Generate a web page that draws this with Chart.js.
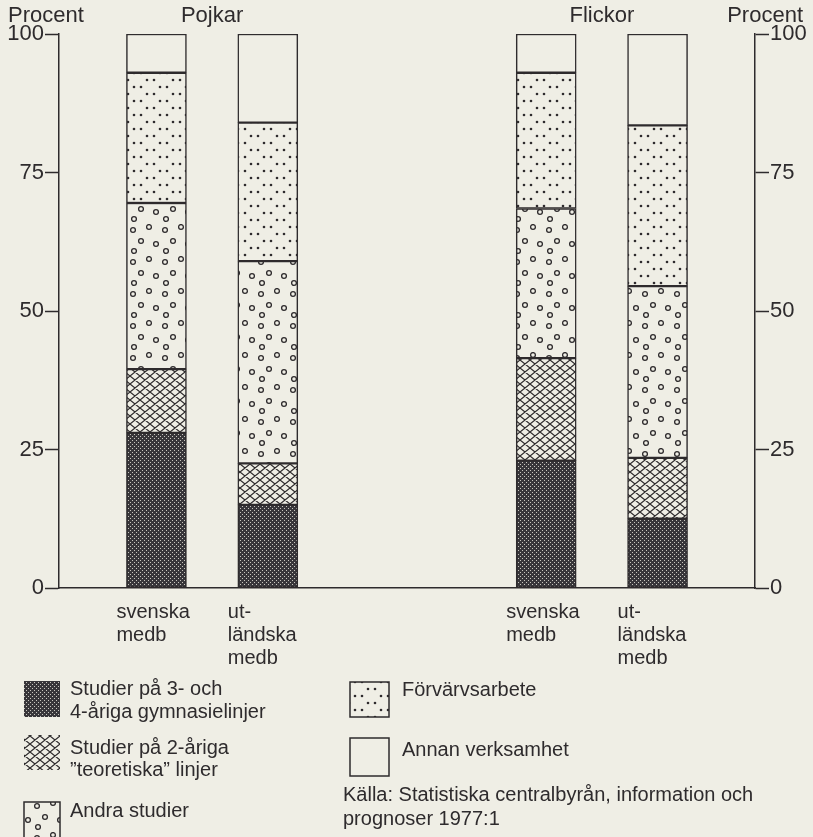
<!DOCTYPE html>
<html>
<head>
<meta charset="utf-8">
<script src="https://cdn.jsdelivr.net/npm/chart.js@4.4.1/dist/chart.umd.min.js"></script>
<style>
    html, body { margin: 0; padding: 0; background: #efeee5; }
    #wrap { width: 813px; height: 837px; }
</style>
</head>
<body>
<div id="wrap"><canvas id="chart" width="813" height="837"></canvas></div>
<script>
// Data (procent)
const groups = ['Pojkar', 'Flickor'];
const categories = [['svenska', 'medb'], ['ut-', 'ländska', 'medb'], ['svenska', 'medb'], ['ut-', 'ländska', 'medb']];
const seriesNames = [
    ['Studier på 3- och', '4-åriga gymnasielinjer'],
    ['Studier på 2-åriga', '”teoretiska” linjer'],
    ['Andra studier'],
    ['Förvärvsarbete'],
    ['Annan verksamhet']
];
const studier34 = [28, 15, 23, 12.5];
const studier2 = [11.5, 7.5, 18.5, 11];
const andraStudier = [30, 36.5, 27, 31];
const forvarv = [23.5, 25, 24.5, 29];
const annan = [7, 16, 7, 16.5];
const tickValues = [0, 25, 50, 75, 100];
const sourceLines = ['Källa: Statistiska centralbyrån, information och', 'prognoser 1977:1'];

// Layout: staplarna placeras i ett rutnät av kategorifack
const SLOTS = 25;
const barSlots = [3, 7, 17, 21];

const BG = '#efeee5';
const INK = '#2e2b2d';
const FONT = "'Liberation Sans', Arial, sans-serif";

const canvas = document.getElementById('chart');
const ctx = canvas.getContext('2d');

// Mönster
function makePattern(w, h, draw, bg) {
    const c = document.createElement('canvas');
    c.width = w; c.height = h;
    const g = c.getContext('2d');
    g.fillStyle = bg || BG;
    g.fillRect(0, 0, w, h);
    g.fillStyle = INK;
    g.strokeStyle = INK;
    draw(g, w, h);
    return ctx.createPattern(c, 'repeat');
}

const darkPattern = makePattern(4, 4, g => {
    g.fillStyle = '#c9c7bf';
    g.fillRect(0, 0, 1, 1);
    g.fillRect(2, 2, 1, 1);
}, '#38363a');

const crossPattern = makePattern(10, 8, (g, w, h) => {
    g.lineWidth = 1.2;
    g.beginPath();
    for (const dx of [-w, 0, w]) {
        g.moveTo(dx, 0); g.lineTo(dx + w, h);
        g.moveTo(dx + w, 0); g.lineTo(dx, h);
    }
    g.stroke();
});

const circlePattern = makePattern(32, 32, (g, w, h) => {
    g.lineWidth = 1.3;
    const pts = [[5, 6], [21, 3], [13, 17], [28, 20], [6, 27]];
    pts.forEach(([px, py]) => {
        for (const dx of [-w, 0, w]) for (const dy of [-h, 0, h]) {
            g.beginPath();
            g.arc(px + dx, py + dy, 2.4, 0, Math.PI * 2);
            g.stroke();
        }
    });
});

const dotPattern = makePattern(26, 14, g => {
    [[4, 3], [11, 3], [17, 10], [24, 10]].forEach(([px, py]) => {
        g.beginPath();
        g.arc(px, py, 1.3, 0, Math.PI * 2);
        g.fill();
    });
});

const fills = [darkPattern, crossPattern, circlePattern, dotPattern, BG];
const seriesValues = [studier34, studier2, andraStudier, forvarv, annan];

// Lägg värdena i rätt fack
function toSlots(values) {
    const arr = new Array(SLOTS).fill(null);
    values.forEach((v, i) => { arr[barSlots[i]] = v; });
    return arr;
}
const slotLabels = new Array(SLOTS).fill('');
barSlots.forEach((s, i) => { slotLabels[s] = categories[i].join(' '); });

const datasets = seriesValues.map((vals, i) => ({
    label: seriesNames[i].join(' '),
    data: toSlots(vals),
    backgroundColor: fills[i],
    borderColor: INK,
    borderWidth: 1.5,
    borderSkipped: false,
    barThickness: 60
}));

// Legendens och textens placering
const legendBoxes = [
    { x: 24, y: 681, w: 36, h: 36, tx: 70, ty: [689, 712], stroke: false },
    { x: 24, y: 735, w: 36, h: 35, tx: 70, ty: [748, 770], stroke: false },
    { x: 24, y: 802, w: 36, h: 40, tx: 70, ty: [811], stroke: true },
    { x: 350, y: 682, w: 39, h: 35, tx: 402, ty: [690], stroke: true },
    { x: 350, y: 738, w: 39, h: 38, tx: 402, ty: [750], stroke: true }
];
const labelLineY = [612, 635, 658];

const extraText = {
    id: 'extraText',
    afterDraw(chart) {
        const c = chart.ctx;
        const x = chart.scales.x;
        c.save();
        c.fillStyle = INK;
        c.textBaseline = 'middle';

        c.font = '22px ' + FONT;
        c.textAlign = 'left';
        c.fillText('Procent', 8, 16);
        c.textAlign = 'right';
        c.fillText('Procent', 803, 16);
        c.textAlign = 'center';
        groups.forEach((g, i) => {
            const a = x.getPixelForValue(barSlots[i * 2]);
            const b = x.getPixelForValue(barSlots[i * 2 + 1]);
            c.fillText(g, (a + b) / 2, 16);
        });

        // kategorietiketter
        c.font = '20px ' + FONT;
        c.textAlign = 'left';
        categories.forEach((lines, i) => {
            const left = x.getPixelForValue(barSlots[i]) - 40;
            lines.forEach((t, j) => c.fillText(t, left, labelLineY[j]));
        });

        // legend
        legendBoxes.forEach((b, i) => {
            c.fillStyle = fills[i];
            c.fillRect(b.x, b.y, b.w, b.h);
            if (b.stroke) {
                c.strokeStyle = INK;
                c.lineWidth = 1.5;
                c.strokeRect(b.x, b.y, b.w, b.h);
            }
            c.fillStyle = INK;
            seriesNames[i].forEach((t, j) => c.fillText(t, b.tx, b.ty[j]));
        });

        c.fillText(sourceLines[0], 343, 795);
        c.fillText(sourceLines[1], 343, 819);
        c.restore();
    }
};

function yAxis(position, width) {
    return {
        position: position,
        min: 0,
        max: 100,
        stacked: position === 'left',
        afterBuildTicks: s => { s.ticks = tickValues.map(v => ({ value: v })); },
        afterFit: s => { s.width = width; },
        ticks: {
            color: INK,
            padding: 1,
            font: { size: 22, family: FONT }
        },
        grid: {
            drawOnChartArea: false,
            drawTicks: true,
            tickLength: 14,
            tickColor: INK,
            tickWidth: 1.5
        },
        border: { display: true, color: INK, width: 1.5 }
    };
}

new Chart(ctx, {
    type: 'bar',
    data: { labels: slotLabels, datasets: datasets },
    options: {
        responsive: false,
        devicePixelRatio: 1,
        animation: false,
        layout: { padding: { top: 34, bottom: 249, left: 0, right: 0 } },
        plugins: {
            legend: { display: false },
            tooltip: { enabled: false }
        },
        scales: {
            x: {
                stacked: true,
                offset: true,
                afterFit: s => { s.height = 0; },
                ticks: { display: false },
                grid: { display: false },
                border: { display: true, color: INK, width: 1.5 }
            },
            y: yAxis('left', 59),
            y2: yAxis('right', 58)
        }
    },
    plugins: [extraText]
});
</script>
</body>
</html>
